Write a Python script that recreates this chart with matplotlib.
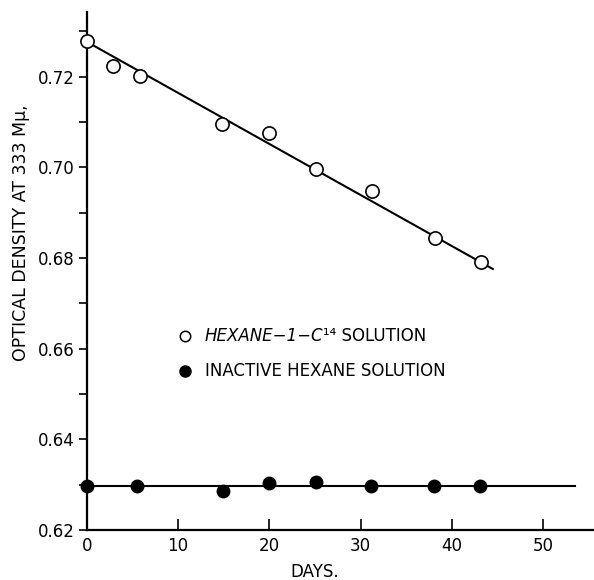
import matplotlib
matplotlib.use("Agg")
import matplotlib.pyplot as plt
import numpy as np

# Data
days_active = [0, 2.8, 5.8, 14.8, 20.0, 25.1, 31.2, 38.2, 43.2]
od_active = [0.728, 0.7223, 0.7201, 0.7096, 0.7076, 0.6996, 0.6947, 0.6844, 0.6792]
fit_active_x = [0, 44.5]
fit_active_y = [0.7277, 0.6776]

days_inactive = [0, 5.5, 14.9, 20.0, 25.1, 31.1, 38.1, 43.1]
od_inactive = [0.6298, 0.6298, 0.6286, 0.6303, 0.6307, 0.6298, 0.6298, 0.6298]
fit_inactive_x = [0, 53.5]
fit_inactive_y = [0.6298, 0.6298]

x_ticks = [0, 10, 20, 30, 40, 50]
y_ticks = [0.62, 0.64, 0.66, 0.68, 0.70, 0.72]
y_tick_labels = ["0.62", "0.64", "0.66", "0.68", "0.70", "0.72"]
y_minor = [0.63, 0.65, 0.67, 0.69, 0.71, 0.73]

plt.rcParams['font.family'] = ['DejaVu Sans']

fig = plt.figure(figsize=(5.94, 5.80), dpi=100)
ax = fig.add_axes([87/594, 50/580, 1 - 87/594, 518/580])

ax.plot(fit_active_x, fit_active_y, color='black', lw=1.5, zorder=2)
ax.plot(fit_inactive_x, fit_inactive_y, color='black', lw=1.5, zorder=2)
ax.plot(days_active, od_active, 'o', mfc='white', mec='black', mew=1.2, ms=9.5,
        clip_on=False, zorder=3)
ax.plot(days_inactive, od_inactive, 'o', mfc='black', mec='black', ms=9,
        clip_on=False, zorder=3)

ax.set_xlim(0, 55.6)
ax.set_ylim(0.62, 0.7343)

for s in ['top', 'right']:
    ax.spines[s].set_visible(False)
for s in ['left', 'bottom']:
    ax.spines[s].set_linewidth(1.6)

ax.set_xticks(x_ticks)
ax.set_xticklabels([str(v) for v in x_ticks])
ax.set_yticks(y_ticks)
ax.set_yticklabels(y_tick_labels)
ax.set_yticks(y_minor, minor=True)

ax.tick_params(axis='x', direction='in', length=8, width=1.2, pad=5, labelsize=12)
ax.tick_params(axis='y', which='both', direction='out', length=6, width=1.2, pad=3,
               labelsize=12)

fig.text(21/594, 1 - 233/580, "OPTICAL DENSITY AT 333 Mμ,", rotation=90,
         ha='center', va='center', fontsize=12.5)
ax.text(25, 0.6107, "DAYS.", ha='center', va='center', fontsize=12)

# Legend drawn as text with markers
ax.plot([10.7], [0.6627], 'o', mfc='white', mec='black', mew=1.1, ms=7.5)
ax.plot([10.7], [0.6550], 'o', mfc='black', mec='black', ms=8)
t1 = ax.text(12.9, 0.6627, "HEXANE\u22121\u2212C", va='center', ha='left',
             fontsize=12, fontstyle='italic')
ax.annotate("\u00b9\u2074 SOLUTION", xy=(1, 0.5), xycoords=t1, va='center', ha='left',
            fontsize=12)
ax.text(12.9, 0.6550, "INACTIVE HEXANE SOLUTION", va='center', ha='left',
        fontsize=12)

fig.savefig("out.png", dpi=100)
